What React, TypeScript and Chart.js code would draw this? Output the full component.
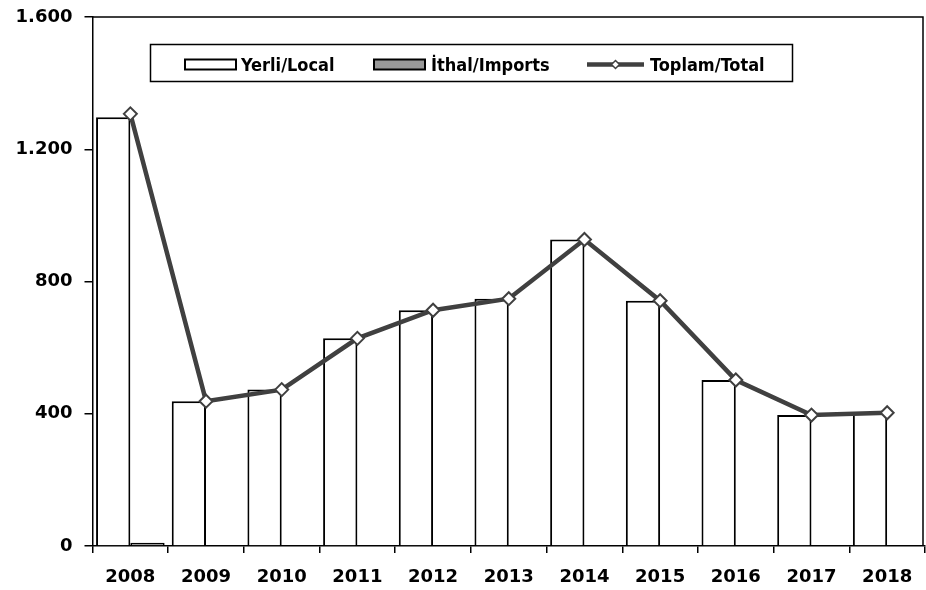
import React, { useEffect, useRef } from "react";
import { Chart, registerables } from "chart.js";

Chart.register(...registerables);

const years = ["2008", "2009", "2010", "2011", "2012", "2013", "2014", "2015", "2016", "2017", "2018"];
const localValues = [1297, 438, 473, 628, 713, 748, 927, 742, 502, 396, 403];
const importValues = [10, 0, 0, 0, 0, 0, 0, 0, 0, 0, 0];
const totalValues = [1307, 438, 473, 628, 713, 748, 927, 742, 502, 396, 403];
const seriesLabels = ["Yerli/Local", "İthal/Imports", "Toplam/Total"];
const yTicks = [0, 400, 800, 1200, 1600];

const FONT = "DejaVu Sans";
const LINE_COLOR = "#404040";
const IMPORT_COLOR = "#999999";

const fmt = (v: number) => String(v).replace(/\B(?=(\d{3})+(?!\d))/g, ".");

const framePlugin = {
  id: "frame",
  afterDatasetsDraw(chart: any) {
    const { ctx, chartArea } = chart;
    ctx.save();
    ctx.strokeStyle = "#000";
    ctx.lineWidth = 1.5;
    ctx.beginPath();
    ctx.moveTo(chartArea.left, chartArea.top);
    ctx.lineTo(chartArea.right - 2, chartArea.top);
    ctx.lineTo(chartArea.right - 2, chartArea.bottom);
    ctx.stroke();
    ctx.restore();
  },
};

const legendPlugin = {
  id: "boxLegend",
  afterDraw(chart: any) {
    const ctx = chart.ctx;
    ctx.save();
    ctx.fillStyle = "#fff";
    ctx.fillRect(150.5, 44.5, 642, 37);
    ctx.strokeStyle = "#000";
    ctx.lineWidth = 1.5;
    ctx.strokeRect(150.5, 44.5, 642, 37);

    ctx.font = `bold 18px "DejaVu Sans Condensed", "${FONT}"`;
    ctx.textBaseline = "alphabetic";

    // Local
    ctx.fillStyle = "#fff";
    ctx.fillRect(185, 59.5, 51, 10);
    ctx.strokeStyle = "#000";
    ctx.lineWidth = 2;
    ctx.strokeRect(185, 59.5, 51, 10);
    ctx.fillStyle = "#000";
    ctx.fillText(seriesLabels[0], 241, 71);

    // Imports
    ctx.fillStyle = IMPORT_COLOR;
    ctx.fillRect(374, 59.5, 51, 10);
    ctx.strokeRect(374, 59.5, 51, 10);
    ctx.fillStyle = "#000";
    ctx.fillText(seriesLabels[1], 431, 71);

    // Total
    ctx.strokeStyle = LINE_COLOR;
    ctx.lineWidth = 4.5;
    ctx.beginPath();
    ctx.moveTo(587, 64.5);
    ctx.lineTo(644, 64.5);
    ctx.stroke();
    ctx.beginPath();
    const cx = 615.5, cy = 64.5, r = 4;
    ctx.moveTo(cx, cy - r);
    ctx.lineTo(cx + r, cy);
    ctx.lineTo(cx, cy + r);
    ctx.lineTo(cx - r, cy);
    ctx.closePath();
    ctx.fillStyle = "#fff";
    ctx.fill();
    ctx.lineWidth = 1.5;
    ctx.stroke();
    ctx.fillStyle = "#000";
    ctx.fillText(seriesLabels[2], 650, 71);
    ctx.restore();
  },
};

export default function App() {
  const canvasRef = useRef<HTMLCanvasElement | null>(null);

  useEffect(() => {
    document.body.style.margin = "0";
    const canvas = canvasRef.current;
    if (!canvas) return;
    const tickFont = { family: FONT, weight: "bold" as const, size: 18 };
    const chart = new Chart(canvas, {
      type: "bar",
      data: {
        labels: years,
        datasets: [
          {
            type: "line",
            label: seriesLabels[2],
            data: totalValues,
            borderColor: LINE_COLOR,
            borderWidth: 4.5,
            pointStyle: "rectRot",
            pointRadius: 6.5,
            pointBackgroundColor: "#fff",
            pointBorderColor: LINE_COLOR,
            pointBorderWidth: 2,
            tension: 0,
            order: 1,
          } as any,
          {
            type: "bar",
            label: seriesLabels[0],
            data: localValues,
            backgroundColor: "#fff",
            borderColor: "#000",
            borderWidth: 2,
            categoryPercentage: 0.906,
            barPercentage: 1,
            order: 2,
          },
          {
            type: "bar",
            label: seriesLabels[1],
            data: importValues,
            backgroundColor: IMPORT_COLOR,
            borderColor: "#000",
            borderWidth: 2,
            categoryPercentage: 0.906,
            barPercentage: 1,
            order: 2,
          },
        ],
      },
      options: {
        responsive: false,
        animation: false,
        devicePixelRatio: 1,
        layout: { autoPadding: false, padding: { top: 17, right: 1, left: 0, bottom: 0 } },
        plugins: {
          legend: { display: false },
          tooltip: { enabled: false },
        },
        scales: {
          x: {
            offset: true,
            grid: {
              display: true,
              offset: true,
              drawOnChartArea: false,
              drawTicks: true,
              tickLength: 7,
              color: "#000",
              lineWidth: 1.5,
            },
            border: { display: true, color: "#000", width: 1.5 },
            ticks: { font: tickFont, color: "#000", padding: 14, maxRotation: 0, autoSkip: false },
            afterFit: (s: any) => {
              s.height = 44;
              s.paddingLeft = 0;
              s.paddingRight = 0;
              s.paddingTop = 0;
              s.paddingBottom = 0;
            },
          },
          y: {
            min: 0,
            max: 1600,
            afterBuildTicks: (s: any) => {
              s.ticks = yTicks.map((v) => ({ value: v }));
            },
            grid: {
              display: true,
              drawOnChartArea: false,
              drawTicks: true,
              tickLength: 8,
              color: "#000",
              lineWidth: 1.5,
            },
            border: { display: true, color: "#000", width: 1.5 },
            ticks: {
              font: tickFont,
              color: "#000",
              padding: 12,
              callback: (v: any) => fmt(Number(v)),
            },
            afterFit: (s: any) => {
              s.width = 92.5;
              s.paddingTop = 0;
              s.paddingBottom = 0;
              s.paddingLeft = 0;
              s.paddingRight = 0;
            },
          },
        },
      },
      plugins: [framePlugin, legendPlugin],
    });
    return () => chart.destroy();
  }, []);

  return (
    <div style={{ position: "absolute", left: 0, top: 0, width: 926, height: 590 }}>
      <canvas ref={canvasRef} width={926} height={590} />
    </div>
  );
}
